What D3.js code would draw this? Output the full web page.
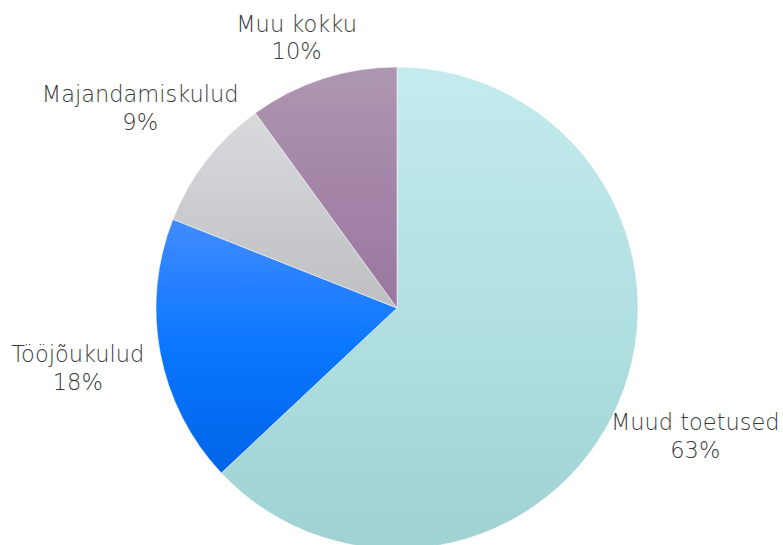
<!DOCTYPE html>
<html>
<head>
<meta charset="utf-8">
<script src="https://cdn.jsdelivr.net/npm/d3@7"></script>
<style>
  html, body { margin: 0; padding: 0; background: #fff; }
  svg { display: block; }
  .label { font-family: "DejaVu Sans", Lato, sans-serif; font-weight: 200; font-size: 22.5px; fill: #3a3a3a; }
</style>
</head>
<body>
<svg id="chart" width="783" height="545"></svg>
<script>
// Data
const categories = ['Muud toetused', 'Tööjõukulud', 'Majandamiskulud', 'Muu kokku'];
const shares = [63, 18, 9, 10];
const colorsTop = ['#c4ebed', '#428bff', '#d9dadc', '#ae96b1'];
const colorsMid = ['#b2e0e2', '#0a77ff', '#cbcccf', '#a485a8'];
const colorsBottom = ['#9fd2d3', '#0064e8', '#bebfc1', '#9a779e'];

const width = 783, height = 545;
const cx = 397, cy = 308;
const radius = 241;
const labelRadius = 325;

const svg = d3.select('#chart');
const defs = svg.append('defs');

// one vertical gradient per slice
categories.forEach((c, i) => {
    const grad = defs.append('linearGradient')
        .attr('id', `grad${i}`)
        .attr('x1', 0).attr('y1', 0).attr('x2', 0).attr('y2', 1);
    grad.append('stop').attr('offset', '0%').attr('stop-color', colorsTop[i]);
    grad.append('stop').attr('offset', '50%').attr('stop-color', colorsMid[i]);
    grad.append('stop').attr('offset', '100%').attr('stop-color', colorsBottom[i]);
});

const data = categories.map((c, i) => ({ name: c, value: shares[i], i }));

const pie = d3.pie()
    .value(d => d.value)
    .sort(null);

const arc = d3.arc().innerRadius(0).outerRadius(radius);
const labelArc = d3.arc().innerRadius(labelRadius).outerRadius(labelRadius);

const g = svg.append('g').attr('transform', `translate(${cx},${cy})`);

const arcs = pie(data);

g.selectAll('path.slice')
    .data(arcs)
    .join('path')
    .attr('class', 'slice')
    .attr('d', arc)
    .attr('fill', d => `url(#grad${d.data.i})`)
    .attr('stroke', '#fff')
    .attr('stroke-width', 0.5);

// Labels
const labels = g.selectAll('text.label')
    .data(arcs)
    .join('text')
    .attr('class', 'label')
    .attr('text-anchor', 'middle');

labels.append('tspan')
    .attr('x', 0)
    .attr('dy', '-0.3em')
    .text(d => d.data.name);
labels.append('tspan')
    .attr('x', 0)
    .attr('dy', '1.22em')
    .text(d => `${d.data.value}%`);

labels.each(function(d) {
    const el = d3.select(this);
    const box = this.getBBox();
    let [x, y] = labelArc.centroid(d);
    // keep the label block inside the canvas
    const minY = -cy + box.height / 2 + 12;
    if (y < minY) y = minY;
    const minX = -cx + box.width / 2 + 10;
    const maxX = width - cx - box.width / 2 - 2;
    x = Math.max(minX, Math.min(maxX, x));
    el.attr('transform', `translate(${x},${y})`);
});
</script>
</body>
</html>
